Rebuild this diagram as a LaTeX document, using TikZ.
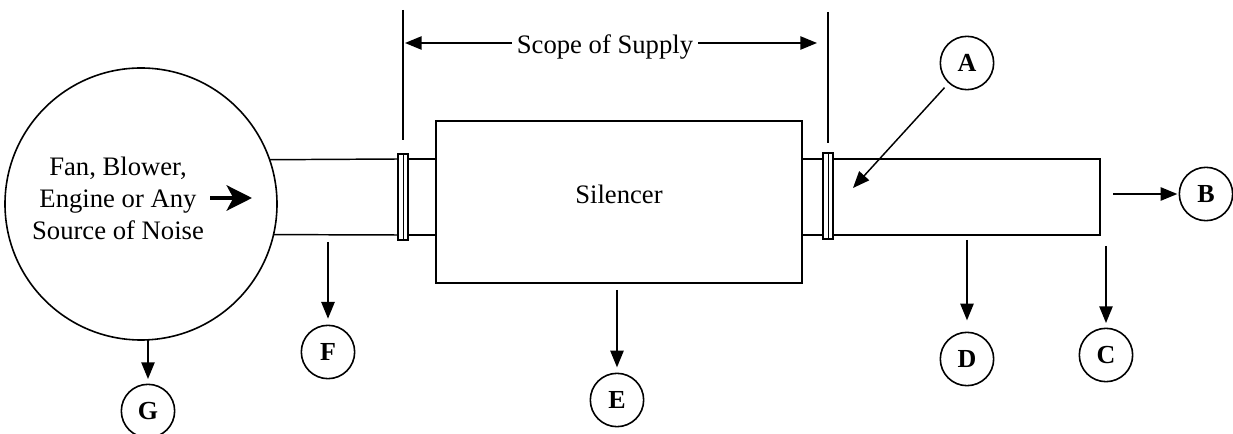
\documentclass[tikz,border=0pt]{standalone}
\usepackage{fontspec}
\setmainfont{Liberation Serif}
\usetikzlibrary{arrows.meta}
\begin{document}
\begin{tikzpicture}[x=0.75pt,y=-0.75pt,
  outline/.style={draw,line width=1.2pt,inner sep=0pt,outer sep=0pt},
  tag/.style={circle,draw,line width=1.2pt,minimum size=40pt,inner sep=0pt,outer sep=0pt,
    font=\fontsize{19.5}{21}\selectfont\bfseries},
  flange/.style={rectangle,draw,line width=1.2pt,minimum width=7.5pt,minimum height=64.5pt,
    inner sep=0pt,outer sep=0pt},
  pipe/.style={line width=1.1pt},
  pointer/.style={line width=1.1pt,-{Triangle[length=12.5pt,width=10pt]}},
  bodytext/.style={font=\fontsize{20}{24}\selectfont,inner sep=3.75pt}
]
\useasboundingbox (0,0) rectangle (1233,434);

% noise source
\node[circle,outline,minimum size=204pt] (src) at (141,204) {};
\node[bodytext,align=center] (srctext) at (118,198) {Fan, Blower,\\Engine or Any\\Source of Noise};
\coordinate (sa) at (210,198);
\coordinate (sb) at (252,198);
\draw[line width=3pt,-{Stealth[length=19pt,width=19pt,inset=5pt]}] (sa) -- (sb);

% silencer and flanges
\node[rectangle,outline,minimum width=274.5pt,minimum height=121.5pt] (sil) at (619,202) {};
\node[bodytext] (siltext) at (619,194) {Silencer};
\node[flange] (fl) at (403,197) {};
\node[flange] (fr) at (828,196) {};
\draw[line width=0.4pt] (fl.north) -- (fl.south);
\draw[line width=0.4pt] (fr.north) -- (fr.south);

% pipe walls
\coordinate (ytop) at (0,159);
\coordinate (ybot) at (0,235);
\draw[pipe] (src.19.31) -- (fl.west |- ytop);
\draw[pipe] (src.-13.18) -- (fl.west |- ybot);
\draw[pipe] (fl.east |- ytop) -- (sil.west |- ytop);
\draw[pipe] (fl.east |- ybot) -- (sil.west |- ybot);
\draw[pipe] (sil.east |- ytop) -- (fr.west |- ytop);
\draw[pipe] (sil.east |- ybot) -- (fr.west |- ybot);
\coordinate (endtop) at (1100,159);
\coordinate (endbot) at (1100,235);
\draw[pipe] (fr.east |- ytop) -- (endtop) -- (endbot) -- (fr.east |- ybot);

% scope of supply dimension
\coordinate (dl1) at (403,10);
\coordinate (dl2) at (403,140);
\coordinate (dr1) at (828,12);
\coordinate (dr2) at (828,143);
\draw[pipe] (dl1) -- (dl2);
\draw[pipe] (dr1) -- (dr2);
\node[bodytext,inner sep=3.75pt] (scope) at (605,47) {Scope of Supply};
\coordinate (sl) at (405,43);
\coordinate (sr) at (817,43);
\draw[pointer] (scope.west |- sl) -- (sl);
\draw[pointer] (scope.east |- sr) -- (sr);

% measurement points
\node[tag] (A) at (967,63) {A};
\node[tag] (B) at (1206,194) {B};
\node[tag] (C) at (1106,355) {C};
\node[tag] (D) at (967,359) {D};
\node[tag] (E) at (617,400) {E};
\node[tag] (F) at (328,352) {F};
\node[tag] (G) at (148,411) {G};

\coordinate (atip) at (853,188);
\draw[pointer,shorten <=5pt] (A) -- (atip);
\coordinate (bs) at (1113,194);
\draw[pointer,shorten >=1.5pt] (bs) -- (B);
\coordinate (cs) at (1106,246);
\draw[pointer,shorten >=4pt] (cs) -- (C);
\coordinate (ds) at (967,240);
\draw[pointer,shorten >=9pt] (ds) -- (D);
\coordinate (es) at (617,290);
\draw[pointer,shorten >=4.5pt] (es) -- (E);
\coordinate (fs) at (328,242);
\draw[pointer,shorten >=5pt] (fs) -- (F);
\draw[pointer,shorten >=4pt] (G |- src.south) -- (G);
\end{tikzpicture}
\end{document}
